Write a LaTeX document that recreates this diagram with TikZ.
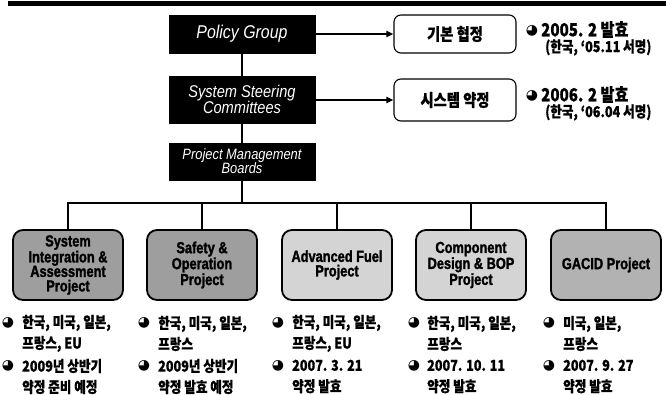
\documentclass[tikz,border=0pt]{standalone}
\usepackage{fontspec}
\setmainfont{Liberation Sans}
\newfontfamily\krfont[FakeStretch=0.84, BoldFeatures={FakeBold=0.6}]{Noto Sans CJK KR}
\newfontfamily\headfont[FakeStretch=0.86]{Liberation Sans}
\newfontfamily\projfont[FakeStretch=0.8, BoldFeatures={FakeBold=1.6}]{Liberation Sans}
\newfontfamily\symfont{DejaVu Sans}
\usetikzlibrary{arrows.meta}
\definecolor{projdark}{gray}{0.62}
\definecolor{projmid}{gray}{0.70}
\definecolor{projlight}{gray}{0.83}
\tikzset{
  x=1pt, y=-1pt,
  board/.style={draw=black, fill=black, text=white, minimum width=146pt,
    inner sep=0pt, align=center, font=\headfont\itshape},
  agreement/.style={draw=black, line width=1.1pt, rounded corners=7pt, fill=white,
    minimum width=122pt, inner sep=0pt, font=\krfont\bfseries\fontsize{17}{19}\selectfont},
  project/.style={draw=black, line width=1.8pt, rounded corners=10pt,
    minimum width=110pt, minimum height=70pt, inner sep=0pt, align=center,
    font=\projfont\bfseries\fontsize{16}{14.5}\selectfont},
  link/.style={line width=1.8pt},
  feed/.style={line width=1.8pt, -{Triangle[length=7pt,width=6pt]}},
  dot/.style={inner sep=0pt, font=\symfont\bfseries\fontsize{14}{14}\selectfont},
  main/.style={anchor=west, inner sep=0pt, font=\krfont\bfseries\fontsize{18}{19}\selectfont},
  sub/.style={anchor=west, inner sep=0pt, font=\krfont\bfseries\fontsize{15}{16}\selectfont},
  info/.style={anchor=west, inner sep=0pt, align=left,
    font=\krfont\bfseries\fontsize{15}{21}\selectfont},
}
\begin{document}
\begin{tikzpicture}
\useasboundingbox (0,0) rectangle (666,395);

% heading rule
\fill[black] (8,1) rectangle (666,6);

% governing bodies
\node[board, minimum height=38pt, font=\headfont\itshape\fontsize{18.5}{19}\selectfont]
  (policy) at (242,34) {Policy Group};
\node[board, minimum height=47pt, font=\headfont\itshape\fontsize{17}{15.5}\selectfont]
  (ssc) at (242,99.5) {System Steering\\Committees};
\node[board, minimum height=37pt, font=\headfont\itshape\fontsize{15}{14}\selectfont]
  (pmb) at (242,161.5) {Project Management\\Boards};

% agreements
\node[agreement, minimum height=38pt] (framework) at (455,34) {기본 협정};
\node[agreement, minimum height=42pt] (sysagr) at (455,100) {시스템 약정};

\draw[link] (policy) -- (ssc);
\draw[link] (ssc) -- (pmb);
\draw[feed] (policy.east) -- (framework.west);
\draw[feed] (ssc.east |- sysagr.west) -- (sysagr.west);

% agreement notes
\node[dot] (d1) at (532,31) {◕};
\node[main] (n1) at (541,29.5) {2005. 2 발효};
\node[sub] (s1) at (545,47.5) {(한국, ‘05.11 서명)};
\node[dot] (d2) at (532,96) {◕};
\node[main] (n2) at (541,94.5) {2006. 2 발효};
\node[sub] (s2) at (545,112.5) {(한국, ‘06.04 서명)};

% projects
\node[project, fill=projdark] (p1) at (68,265) {System\\Integration \&\\Assessment\\Project};
\node[project, fill=projdark] (p2) at (202,265) {Safety \&\\Operation\\Project};
\node[project, fill=projlight] (p3) at (337,265) {Advanced Fuel\\Project};
\node[project, fill=projlight] (p4) at (471,265) {Component\\Design \& BOP\\Project};
\node[project, fill=projmid] (p5) at (606,265) {GACID Project};

% distribution bus
\coordinate (bus) at (242,203);
\draw[link] (pmb) -- (bus);
\draw[link] (p1.north) |- (bus) -| (p5.north);
\draw[link] (p2.north) -- (p2.north |- bus);
\draw[link] (p3.north) -- (p3.north |- bus);
\draw[link] (p4.north) -- (p4.north |- bus);

% project notes
\node[dot] (a1) at (8,323) {◕};
\node[info] (t1) at (22,333.5) {한국, 미국, 일본,\\프랑스, EU};
\node[dot] (b1) at (8,366) {◕};
\node[info] (u1) at (22,376.5) {2009년 상반기\\약정 준비 예정};

\node[dot] (a2) at (144,323) {◕};
\node[info] (t2) at (158,333.5) {한국, 미국, 일본,\\프랑스};
\node[dot] (b2) at (144,366) {◕};
\node[info] (u2) at (158,376.5) {2009년 상반기\\약정 발효 예정};

\node[dot] (a3) at (278,323) {◕};
\node[info] (t3) at (292,333.5) {한국, 미국, 일본,\\프랑스, EU};
\node[dot] (b3) at (278,366) {◕};
\node[info] (u3) at (292,376.5) {2007. 3. 21\\약정 발효};

\node[dot] (a4) at (414,323) {◕};
\node[info] (t4) at (427,333.5) {한국, 미국, 일본,\\프랑스};
\node[dot] (b4) at (414,366) {◕};
\node[info] (u4) at (427,376.5) {2007. 10. 11\\약정 발효};

\node[dot] (a5) at (549,323) {◕};
\node[info] (t5) at (563,333.5) {미국, 일본,\\프랑스};
\node[dot] (b5) at (549,366) {◕};
\node[info] (u5) at (563,376.5) {2007. 9. 27\\약정 발효};
\end{tikzpicture}
\end{document}
